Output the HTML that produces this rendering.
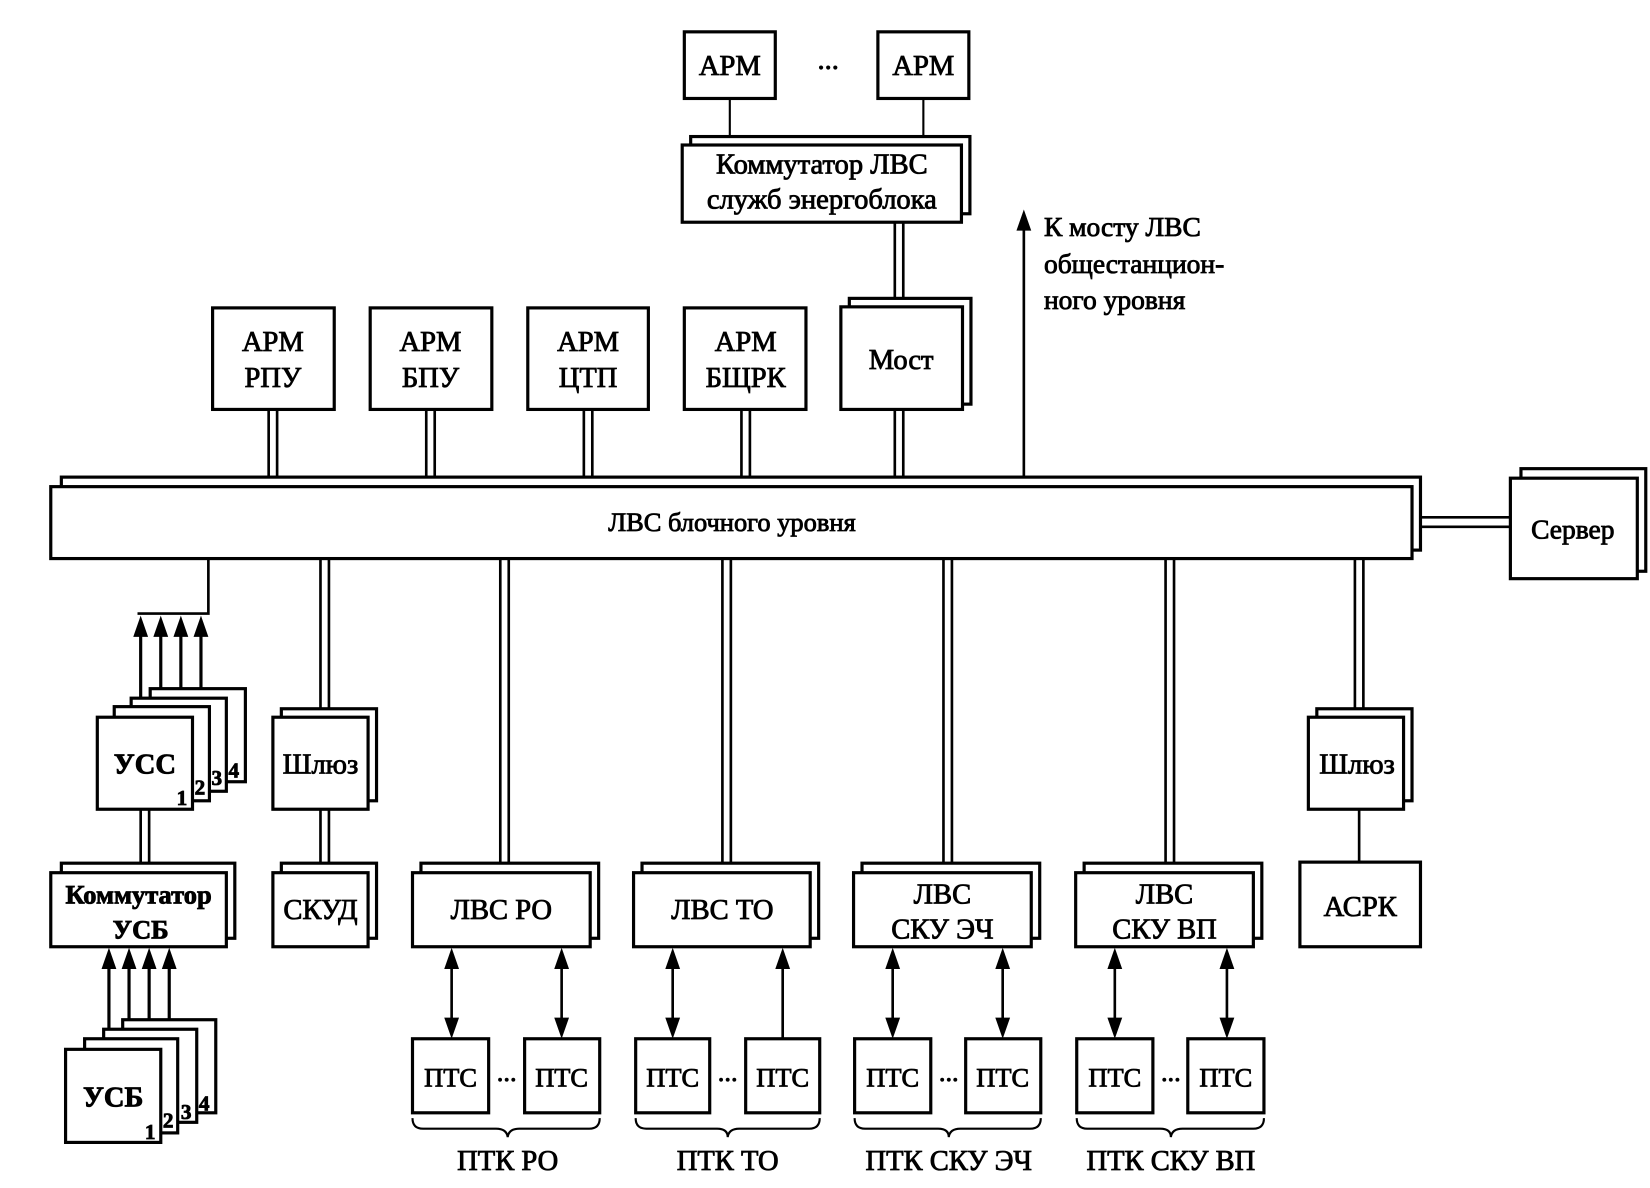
<!DOCTYPE html>
<html><head><meta charset="utf-8"><style>
html,body{margin:0;padding:0;background:#fff;}
svg{display:block}
svg text{font-family:"Liberation Serif","DejaVu Serif",serif;fill:#000;stroke:#000;stroke-width:0.8;}
</style></head><body>
<svg width="1650" height="1188" viewBox="0 0 1560 1123" xmlns="http://www.w3.org/2000/svg" font-family="Liberation Serif, DejaVu Serif, serif">
<g fill="#fff" stroke="#000" stroke-width="3">
<rect x="647" y="30" width="86" height="63"/>
<rect x="830" y="30" width="86" height="63"/>
<line x1="690" y1="93" x2="690" y2="137" stroke-width="2"/>
<line x1="873" y1="93" x2="873" y2="137" stroke-width="2"/>
<rect x="653" y="129" width="264" height="73"/>
<rect x="645" y="137" width="264" height="73"/>
<line x1="846" y1="210" x2="846" y2="290" stroke-width="2.5"/>
<line x1="854" y1="210" x2="854" y2="282" stroke-width="2.5"/>
<rect x="803" y="282" width="115" height="100"/>
<rect x="795" y="290" width="115" height="97"/>
<rect x="201" y="291" width="115" height="96"/>
<rect x="350" y="291" width="115" height="96"/>
<rect x="499" y="291" width="114" height="96"/>
<rect x="647" y="291" width="115" height="96"/>
</g>
<g stroke="#000" stroke-width="2.5">
<line x1="254" y1="387" x2="254" y2="460"/><line x1="262" y1="387" x2="262" y2="451"/>
<line x1="403" y1="387" x2="403" y2="460"/><line x1="411" y1="387" x2="411" y2="451"/>
<line x1="552" y1="387" x2="552" y2="460"/><line x1="560" y1="387" x2="560" y2="451"/>
<line x1="701" y1="387" x2="701" y2="460"/><line x1="709" y1="387" x2="709" y2="451"/>
<line x1="846" y1="387" x2="846" y2="460"/><line x1="854" y1="387" x2="854" y2="451"/>
<line x1="968" y1="460" x2="968" y2="215"/>
</g>
<polygon points="968,198 961,218 975,218" fill="#000"/>
<g fill="#fff" stroke="#000" stroke-width="3">
<rect x="58" y="451" width="1285" height="69"/>
<rect x="48" y="460" width="1287" height="68"/>
<rect x="1438" y="443" width="118" height="97"/>
<rect x="1428" y="452" width="120" height="95"/>
</g>
<g stroke="#000" stroke-width="2.5">
<line x1="1343" y1="489" x2="1428" y2="489"/><line x1="1343" y1="498" x2="1428" y2="498"/>
<polyline points="197,528 197,580 130,580" fill="none"/>
<line x1="303" y1="528" x2="303" y2="678"/><line x1="311" y1="528" x2="311" y2="670"/>
<line x1="473" y1="528" x2="473" y2="825"/><line x1="481" y1="528" x2="481" y2="816"/>
<line x1="683" y1="528" x2="683" y2="825"/><line x1="691" y1="528" x2="691" y2="816"/>
<line x1="892" y1="528" x2="892" y2="825"/><line x1="900" y1="528" x2="900" y2="816"/>
<line x1="1102" y1="528" x2="1102" y2="825"/><line x1="1110" y1="528" x2="1110" y2="816"/>
<line x1="1281" y1="528" x2="1281" y2="678"/><line x1="1289" y1="528" x2="1289" y2="670"/>
<line x1="1285" y1="765" x2="1285" y2="815"/>
<line x1="303" y1="765" x2="303" y2="825"/><line x1="311" y1="765" x2="311" y2="816"/>
<line x1="133" y1="765" x2="133" y2="825"/><line x1="141" y1="765" x2="141" y2="816"/>
</g>
<g stroke="#000" stroke-width="3">
<line x1="133" y1="598" x2="133" y2="678"/><line x1="152" y1="598" x2="152" y2="668"/>
<line x1="171" y1="598" x2="171" y2="660"/><line x1="190" y1="598" x2="190" y2="651"/>
<line x1="103" y1="912" x2="103" y2="992"/><line x1="122" y1="912" x2="122" y2="982"/>
<line x1="141" y1="912" x2="141" y2="973"/><line x1="160" y1="912" x2="160" y2="964"/>
</g>
<g fill="#000">
<polygon points="133,582 126,602 140,602"/><polygon points="152,582 145,602 159,602"/>
<polygon points="171,582 164,602 178,602"/><polygon points="190,582 183,602 197,602"/>
<polygon points="103,896 96,916 110,916"/><polygon points="122,896 115,916 129,916"/>
<polygon points="141,896 134,916 148,916"/><polygon points="160,896 153,916 167,916"/>
</g>
<g fill="#fff" stroke="#000" stroke-width="3">
<rect x="142" y="651" width="90" height="88"/>
<rect x="124" y="660" width="90" height="88"/>
<rect x="108" y="668" width="90" height="89"/>
<rect x="92" y="678" width="90" height="87"/>
<rect x="58" y="816" width="164" height="71"/>
<rect x="48" y="825" width="166" height="70"/>
<rect x="116" y="964" width="88" height="88"/>
<rect x="98" y="973" width="88" height="88"/>
<rect x="80" y="982" width="88" height="89"/>
<rect x="62" y="992" width="90" height="88"/>
<rect x="266" y="670" width="90" height="87"/>
<rect x="258" y="678" width="90" height="87"/>
<rect x="266" y="816" width="90" height="71"/>
<rect x="258" y="825" width="90" height="70"/>
<rect x="1245" y="670" width="90" height="87"/>
<rect x="1237" y="678" width="90" height="87"/>
<rect x="1229" y="815" width="114" height="80"/>
<rect x="398" y="816" width="168" height="71"/><rect x="390" y="825" width="168" height="70"/>
<rect x="607" y="816" width="167" height="71"/><rect x="599" y="825" width="167" height="70"/>
<rect x="815" y="816" width="168" height="71"/><rect x="807" y="825" width="168" height="70"/>
<rect x="1025" y="816" width="168" height="71"/><rect x="1017" y="825" width="168" height="70"/>
<rect x="390" y="982" width="72" height="70"/><rect x="496" y="982" width="71" height="70"/>
<rect x="601" y="982" width="70" height="70"/><rect x="705" y="982" width="70" height="70"/>
<rect x="808" y="982" width="72" height="70"/><rect x="913" y="982" width="71" height="70"/>
<rect x="1018" y="982" width="72" height="70"/><rect x="1123" y="982" width="72" height="70"/>
</g>
<g stroke="#000" stroke-width="2.5">
<line x1="427" y1="910" x2="427" y2="968"/><line x1="531" y1="910" x2="531" y2="968"/>
<line x1="636" y1="910" x2="636" y2="968"/><line x1="740" y1="910" x2="740" y2="982"/>
<line x1="844" y1="910" x2="844" y2="968"/><line x1="948" y1="910" x2="948" y2="968"/>
<line x1="1054" y1="910" x2="1054" y2="968"/><line x1="1160" y1="910" x2="1160" y2="968"/>
</g>
<g fill="#000">
<polygon points="427,896 420,916 434,916"/><polygon points="427,982 420,962 434,962"/>
<polygon points="531,896 524,916 538,916"/><polygon points="531,982 524,962 538,962"/>
<polygon points="636,896 629,916 643,916"/><polygon points="636,982 629,962 643,962"/>
<polygon points="740,896 733,916 747,916"/>
<polygon points="844,896 837,916 851,916"/><polygon points="844,982 837,962 851,962"/>
<polygon points="948,896 941,916 955,916"/><polygon points="948,982 941,962 955,962"/>
<polygon points="1054,896 1047,916 1061,916"/><polygon points="1054,982 1047,962 1061,962"/>
<polygon points="1160,896 1153,916 1167,916"/><polygon points="1160,982 1153,962 1167,962"/>
</g>
<g fill="none" stroke="#000" stroke-width="2">
<path d="M390,1057 q0,10 10,10 h69 q10,0 11,8 q1,-8 11,-8 h66 q10,0 10,-10"/>
<path d="M601,1057 q0,10 10,10 h67 q10,0 10,8 q1,-8 11,-8 h66 q10,0 10,-10"/>
<path d="M808,1057 q0,10 10,10 h69 q10,0 10,8 q1,-8 11,-8 h66 q10,0 10,-10"/>
<path d="M1018,1057 q0,10 10,10 h69 q10,0 10,8 q1,-8 11,-8 h67 q10,0 10,-10"/>
</g>
<g font-size="27" text-anchor="middle">
<text x="690" y="71">АРМ</text>
<text x="873" y="71">АРМ</text>
<text x="783" y="65">...</text>
<text x="777" y="164">Коммутатор ЛВС</text>
<text x="777" y="197">служб энергоблока</text>
<text x="852" y="349">Мост</text>
<text x="258" y="332">АРМ</text><text x="258" y="366">РПУ</text>
<text x="407" y="332">АРМ</text><text x="407" y="366">БПУ</text>
<text x="556" y="332">АРМ</text><text x="556" y="366">ЦТП</text>
<text x="705" y="332">АРМ</text><text x="705" y="366">БЩРК</text>
<text x="692" y="502" font-size="25">ЛВС блочного уровня</text>
<text x="1487" y="509" font-size="26">Сервер</text>
<text x="137" y="731" font-weight="bold">УСС</text>
<text x="131" y="854" font-weight="bold" font-size="25">Коммутатор</text>
<text x="133" y="887" font-weight="bold" font-size="25">УСБ</text>
<text x="107" y="1046" font-weight="bold">УСБ</text>
<text x="303" y="731">Шлюз</text>
<text x="303" y="869">СКУД</text>
<text x="1283" y="731">Шлюз</text>
<text x="1286" y="866">АСРК</text>
<text x="474" y="869">ЛВС РО</text>
<text x="683" y="869">ЛВС ТО</text>
<text x="891" y="854">ЛВС</text><text x="891" y="887">СКУ ЭЧ</text>
<text x="1101" y="854">ЛВС</text><text x="1101" y="887">СКУ ВП</text>
<g font-size="25">
<text x="426" y="1027">ПТС</text><text x="531" y="1027">ПТС</text>
<text x="636" y="1027">ПТС</text><text x="740" y="1027">ПТС</text>
<text x="844" y="1027">ПТС</text><text x="948" y="1027">ПТС</text>
<text x="1054" y="1027">ПТС</text><text x="1159" y="1027">ПТС</text>
<text x="479" y="1022">...</text><text x="688" y="1022">...</text>
<text x="897" y="1022">...</text><text x="1107" y="1022">...</text>
</g>
<text x="480" y="1106">ПТК РО</text>
<text x="688" y="1106">ПТК ТО</text>
<text x="897" y="1106">ПТК СКУ ЭЧ</text>
<text x="1107" y="1106">ПТК СКУ ВП</text>
</g>
<g font-size="20" font-weight="bold">
<text x="167" y="761">1</text><text x="184" y="751">2</text><text x="200" y="742">3</text><text x="216" y="735">4</text>
<text x="137" y="1077">1</text><text x="154" y="1066">2</text><text x="171" y="1058">3</text><text x="188" y="1050">4</text>
</g>
<g font-size="26">
<text x="987" y="223">К мосту ЛВС</text>
<text x="987" y="258">общестанцион-</text>
<text x="987" y="292">ного уровня</text>
</g>
</svg>
</body></html>
